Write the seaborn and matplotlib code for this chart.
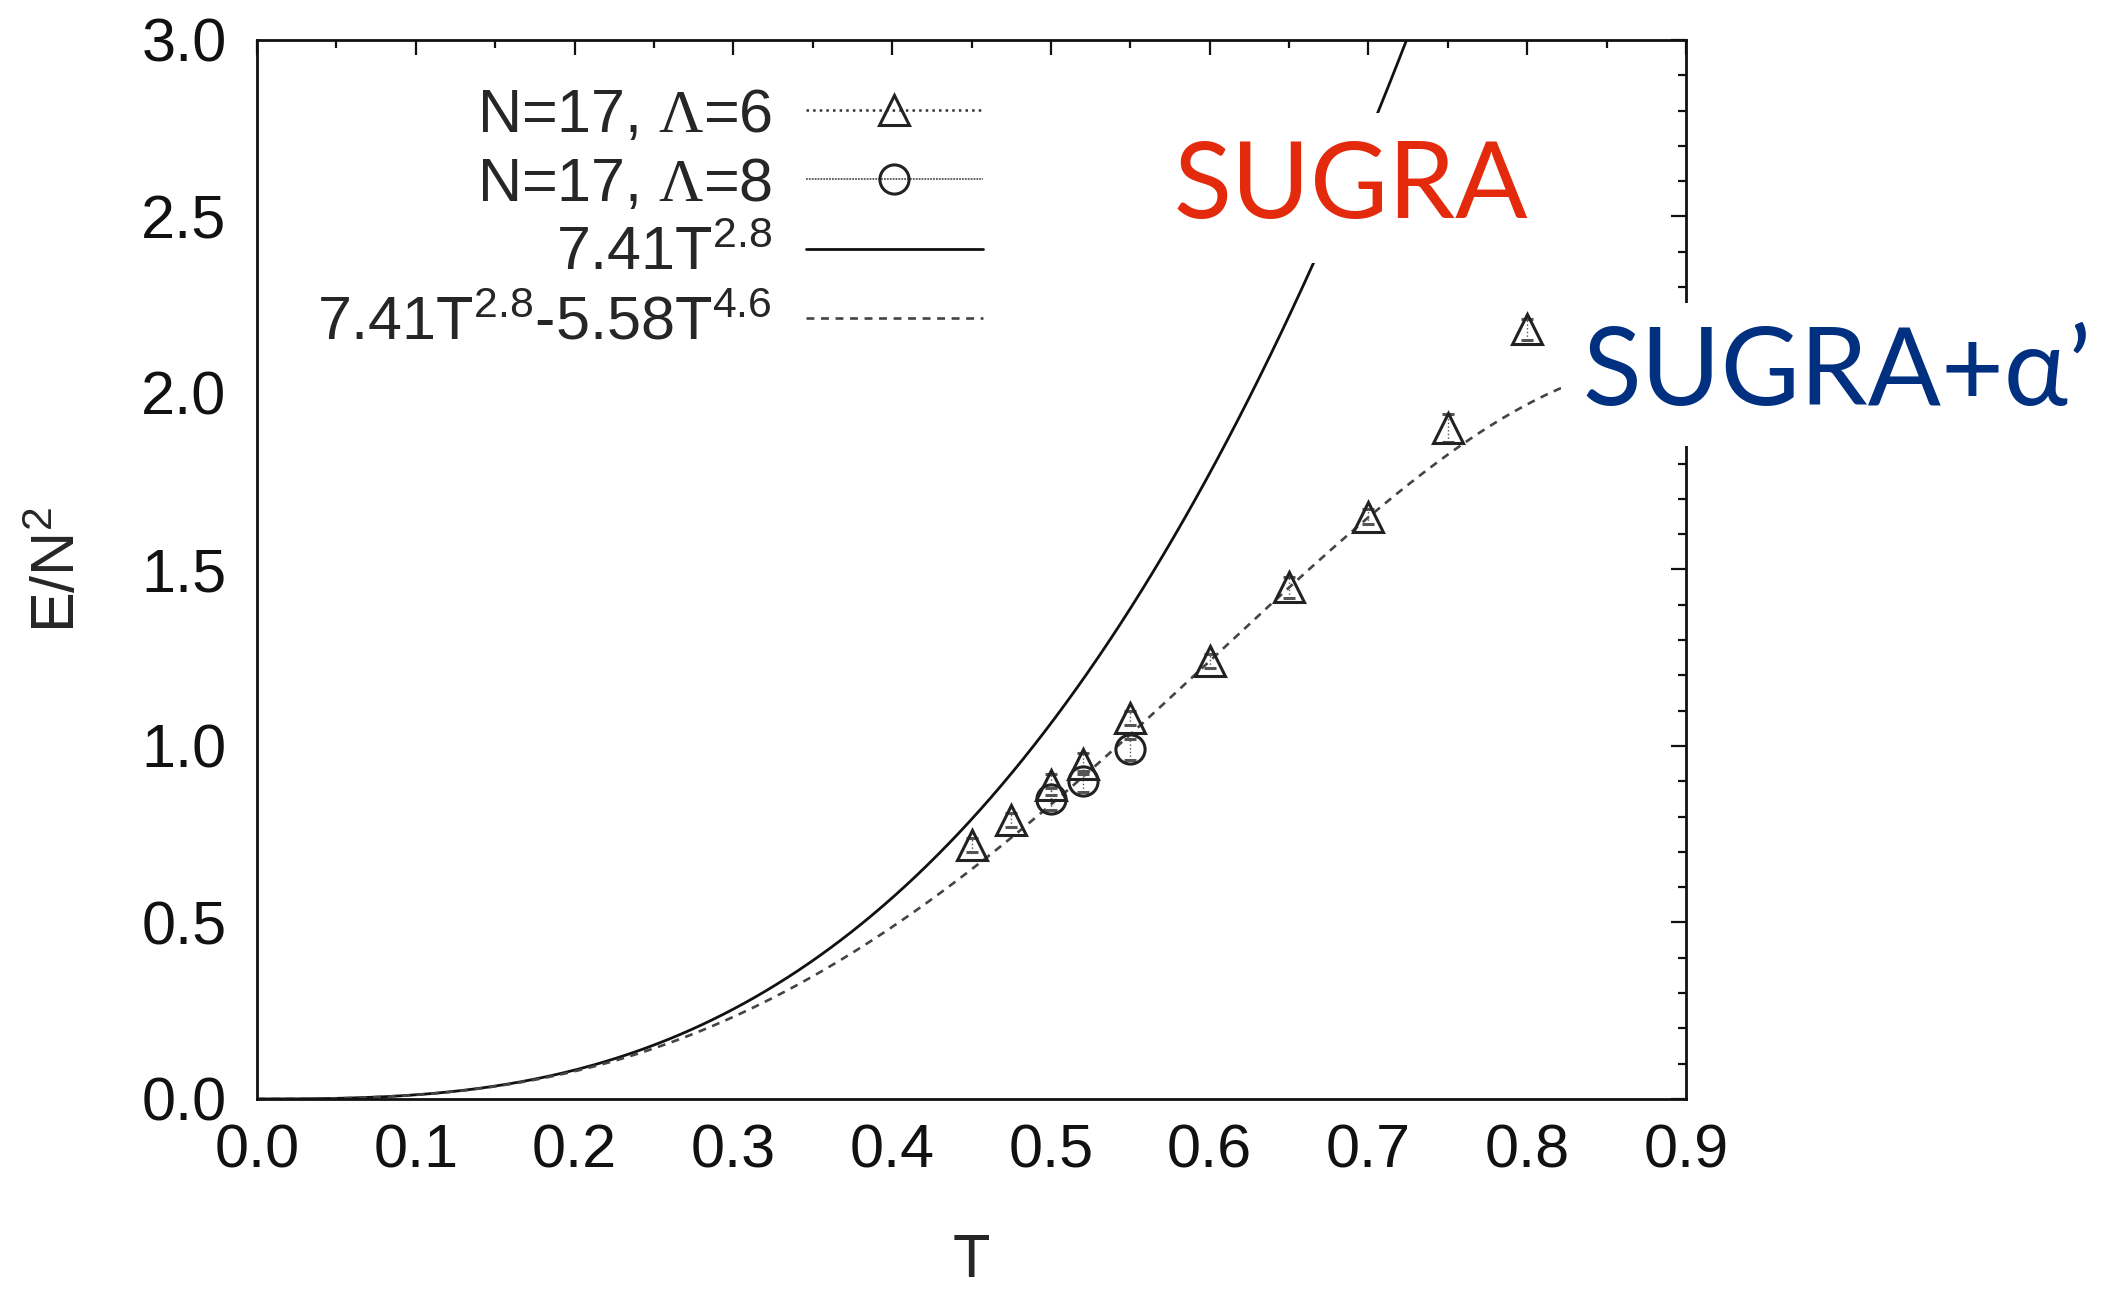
import numpy as np
import pandas as pd
import seaborn as sns
import matplotlib.pyplot as plt
from matplotlib.lines import Line2D
from matplotlib.ticker import MultipleLocator, FormatStrFormatter

# lattice data
t_l6 = [0.45, 0.475, 0.50, 0.52, 0.55, 0.60, 0.65, 0.70, 0.75, 0.80]
e_l6 = [0.72, 0.79, 0.89, 0.95, 1.08, 1.24, 1.45, 1.65, 1.90, 2.18]
err_l6 = [0.02, 0.02, 0.03, 0.03, 0.02, 0.02, 0.03, 0.02, 0.04, 0.03]
t_l8 = [0.50, 0.52, 0.55]
e_l8 = [0.85, 0.90, 0.99]
err_l8 = [0.03, 0.03, 0.03]

# fit coefficients as printed in the legend
c1, p1 = 7.41, 2.8
c2, p2 = 5.58, 4.6

labels = ["N=17, $\\mathsf{\\Lambda}$=6", "N=17, $\\mathsf{\\Lambda}$=8",
          "7.41T$^{2.8}$", "7.41T$^{2.8}$-5.58T$^{4.6}$"]

sns.set_theme(style="white")
plt.rcParams['font.family'] = ['Liberation Sans', 'DejaVu Sans']
plt.rcParams['mathtext.fontset'] = 'custom'
plt.rcParams['mathtext.rm'] = 'Liberation Sans'
plt.rcParams['mathtext.it'] = 'Liberation Sans:italic'
plt.rcParams['mathtext.sf'] = 'Liberation Serif'

t_grid = np.linspace(0, 0.9, 400)
curves = pd.DataFrame({
    "T": t_grid,
    "sugra": c1 * t_grid**p1,
    "alpha": c1 * t_grid**p1 - c2 * t_grid**p2,
})

fig = plt.figure(figsize=(21.12, 12.9), dpi=100)
ax = fig.add_axes([0.1217, 0.1481, 0.6766, 0.8209])

sns.lineplot(data=curves, x="T", y="sugra", ax=ax, color="#111111", lw=2.0)
sns.lineplot(data=curves, x="T", y="alpha", ax=ax, color="#444444", lw=1.9,
             dashes=False, linestyle=(0, (3, 2.5)))

for t, e, err, m in [(t_l6, e_l6, err_l6, '^'), (t_l8, e_l8, err_l8, 'o')]:
    eb = ax.errorbar(t, e, yerr=err, fmt=m, ms=21, mfc='none', mec='#222222',
                     mew=2.2, ecolor='#555555', elinewidth=1.0, capsize=4,
                     capthick=0.8, zorder=4)
    eb[2][0].set_linestyle(':')

ax.set_xlim(0, 0.9)
ax.set_ylim(0, 3.0)
ax.xaxis.set_major_locator(MultipleLocator(0.1))
ax.xaxis.set_minor_locator(MultipleLocator(0.05))
ax.yaxis.set_major_locator(MultipleLocator(0.5))
ax.yaxis.set_minor_locator(MultipleLocator(0.1))
ax.xaxis.set_major_formatter(FormatStrFormatter('%.1f'))
ax.yaxis.set_major_formatter(FormatStrFormatter('%.1f'))
ax.tick_params(which='both', direction='in', top=True, right=True,
               colors='#111111', width=1.6)
ax.tick_params(which='major', length=11, labelsize=44)
ax.tick_params(which='minor', length=5.5)
ax.tick_params(axis='x', which='major', pad=18)
ax.tick_params(axis='y', which='major', pad=22)
for s in ax.spines.values():
    s.set_linewidth(2.0)
    s.set_color('#111111')

ax.set_xlabel("T", fontsize=44)
ax.set_ylabel("E/N$^2$", fontsize=44)
ax.xaxis.set_label_coords(0.5, -0.127)
ax.yaxis.set_label_coords(-0.118, 0.5)

handles = [
    Line2D([], [], ls=':', lw=1.8, color='#333333', marker='^', ms=21,
           mfc='none', mec='#222222', mew=2.2),
    Line2D([], [], ls=(0, (1, 0.6)), lw=1.3, color='#555555', marker='o',
           ms=21, mfc='none', mec='#222222', mew=2.2),
    Line2D([], [], ls='-', lw=2.0, color='#111111'),
    Line2D([], [], ls=(0, (3, 2.5)), lw=1.9, color='#444444'),
]
ax.legend(handles, labels, loc='upper right', bbox_to_anchor=(0.508, 0.955),
          frameon=False, markerfirst=False, fontsize=44, handlelength=2.9,
          handletextpad=0.55, labelspacing=0.2, borderpad=0, borderaxespad=0,
          numpoints=1)

ax.text(0.577, 2.496, "SUGRA", fontsize=77, color='#e42a0c',
        family=['Lato', 'Open Sans', 'DejaVu Sans'], va='baseline', zorder=10,
        bbox=dict(boxstyle='square,pad=0.25', fc='white', ec='none'))
ax.text(0.835, 1.966, "SUGRA+\u03b1\u2019", fontsize=78, color='#00307f',
        family=['Lato', 'Open Sans', 'DejaVu Sans'], va='baseline', zorder=10,
        clip_on=False,
        bbox=dict(boxstyle='square,pad=0.2', fc='white', ec='none'))

fig.savefig("out.png", dpi=100)
